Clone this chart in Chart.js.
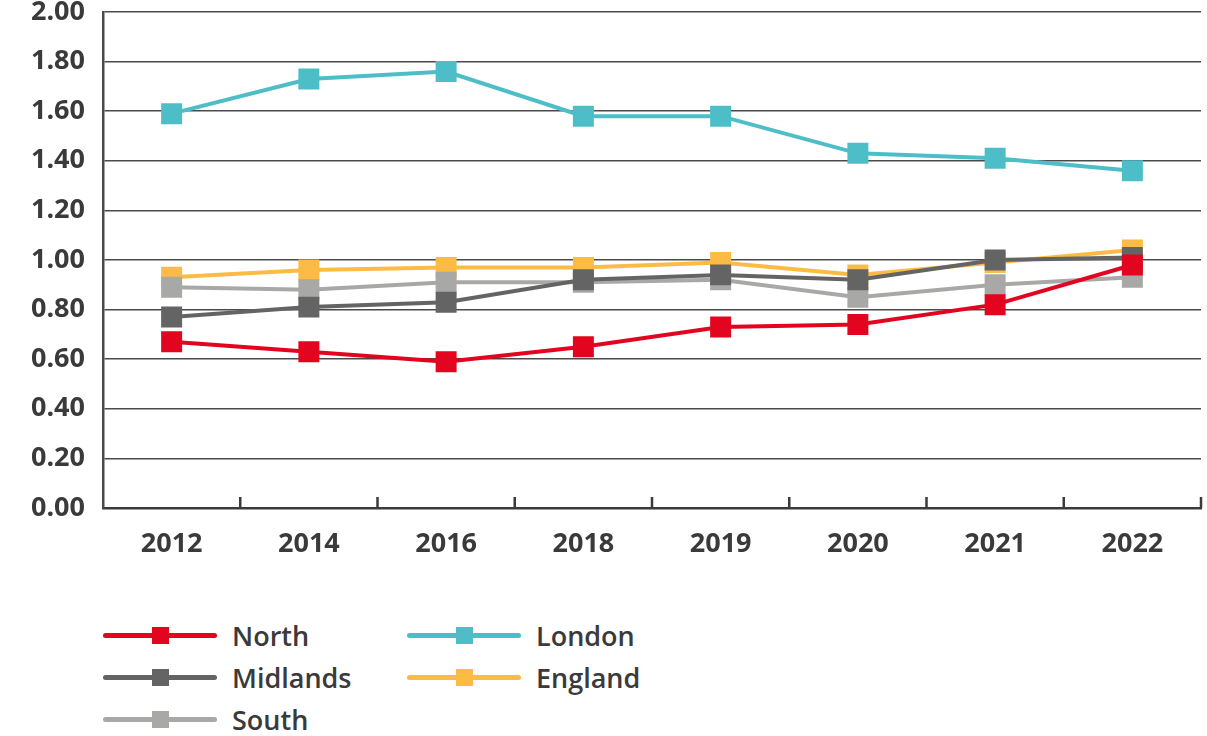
<!DOCTYPE html>
<html>
<head>
<meta charset="utf-8">
<script src="https://cdn.jsdelivr.net/npm/chart.js@4.4.0/dist/chart.umd.min.js"></script>
<style>
  html, body { margin: 0; padding: 0; background: #fff; overflow: hidden; }
  #wrap { position: absolute; left: 0; top: 0; width: 1207px; height: 560px; }
  #legend { position: absolute; left: 103px; top: 614px; width: 700px;
    display: grid; grid-template-columns: 304px 304px; grid-auto-flow: column;
    grid-template-rows: 42px 42px 42px; font-family: "Open Sans", sans-serif;
    font-size: 27px; font-weight: 600; color: #3a3a3a; }
  .item { display: flex; align-items: center; height: 42px; }
  .swatch { position: relative; width: 114px; height: 5px; border-radius: 3px; margin-right: 15px; }
  .swatch span { position: absolute; left: 49px; top: -6px; width: 17px; height: 17px; }
</style>
</head>
<body>
<div id="wrap"><canvas id="myChart"></canvas></div>
<div id="legend"></div>
<script>
const years = ['2012', '2014', '2016', '2018', '2019', '2020', '2021', '2022'];
const yTicks = [0, 0.2, 0.4, 0.6, 0.8, 1.0, 1.2, 1.4, 1.6, 1.8, 2.0];

const north = [0.67, 0.63, 0.59, 0.65, 0.73, 0.74, 0.82, 0.98];
const midlands = [0.77, 0.81, 0.83, 0.92, 0.94, 0.92, 1.00, 1.01];
const south = [0.89, 0.88, 0.91, 0.91, 0.92, 0.85, 0.90, 0.93];
const london = [1.59, 1.73, 1.76, 1.58, 1.58, 1.43, 1.41, 1.36];
const england = [0.93, 0.96, 0.97, 0.97, 0.99, 0.94, 0.99, 1.04];

const names = ['North', 'Midlands', 'South', 'London', 'England'];
const colors = ['#e3051f', '#646464', '#a8a8a7', '#4dbec7', '#fbbb45'];
const series = [north, midlands, south, london, england];

const tickFont = { family: 'Open Sans', size: 27, weight: '700' };

// dataset 0 is drawn on top, so North sits over the others like in the picture
const datasets = series.map((vals, i) => ({
    label: names[i],
    data: vals,
    borderColor: colors[i],
    backgroundColor: colors[i],
    borderWidth: 4,
    pointStyle: 'rect',
    pointRadius: 12,
    pointHoverRadius: 12,
    tension: 0
}));

// small tick marks pointing up from the x axis, between the categories
const innerTicks = {
    id: 'innerTicks',
    afterDatasetsDraw(chart) {
        const x = chart.scales.x, area = chart.chartArea, ctx = chart.ctx;
        const step = x.getPixelForValue(1) - x.getPixelForValue(0);
        ctx.save();
        ctx.strokeStyle = '#3a3a3a';
        ctx.lineWidth = 2.5;
        for (let i = 0; i < years.length; i++) {
            const px = x.getPixelForValue(i) + step / 2;
            ctx.beginPath();
            ctx.moveTo(px, area.bottom);
            ctx.lineTo(px, area.bottom - 11);
            ctx.stroke();
        }
        ctx.restore();
    }
};

const config = {
    type: 'line',
    data: { labels: years, datasets },
    options: {
        responsive: true,
        maintainAspectRatio: false,
        animation: false,
        layout: { autoPadding: false, padding: { top: 12, right: 6, left: 0, bottom: 0 } },
        plugins: { legend: { display: false }, tooltip: { enabled: false } },
        scales: {
            x: {
                offset: true,
                grid: { display: false, offset: true },
                border: { display: true, color: '#3a3a3a', width: 2.5 },
                ticks: { color: '#3a3a3a', font: tickFont, padding: 12 },
                afterFit(scale) {
                    scale.height = 52;
                    scale.paddingLeft = 0;
                    scale.paddingRight = 0;
                }
            },
            y: {
                min: 0,
                max: 2,
                afterBuildTicks(scale) { scale.ticks = yTicks.map(v => ({ value: v })); },
                grid: { color: '#4a4a4a', lineWidth: 1.5, drawTicks: false },
                border: { display: true, color: '#4a4a4a', width: 2.5 },
                ticks: {
                    color: '#3a3a3a', font: tickFont, padding: 18,
                    callback: v => v.toFixed(2)
                },
                afterFit(scale) {
                    scale.width = 103;
                    scale.paddingTop = 0;
                    scale.paddingBottom = 0;
                }
            }
        }
    },
    plugins: [innerTicks]
};

const myChart = new Chart(document.getElementById('myChart'), config);

// html legend, two columns
const legend = document.getElementById('legend');
names.forEach((n, i) => {
    const item = document.createElement('div');
    item.className = 'item';
    item.innerHTML = '<div class="swatch" style="background:' + colors[i] + '"><span style="background:' +
        colors[i] + '"></span></div>' + n;
    legend.appendChild(item);
});
</script>
</body>
</html>
